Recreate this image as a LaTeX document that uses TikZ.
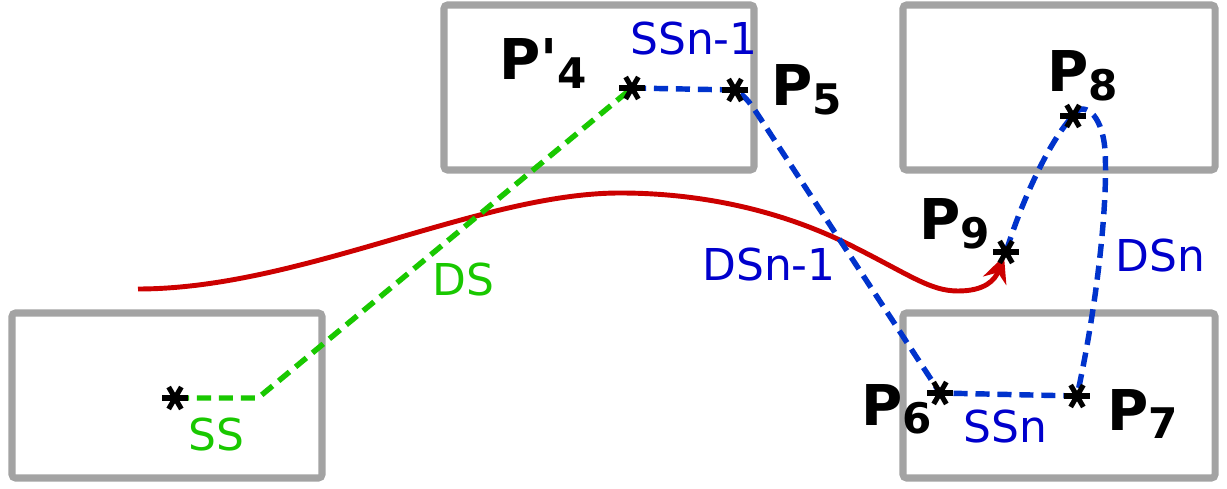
\documentclass[tikz,border=0pt]{standalone}
\usepackage{fontspec}
\setmainfont{DejaVu Sans}[Ligatures=TeXOff]
\usetikzlibrary{arrows.meta}
\definecolor{boxgray}{RGB}{163,163,163}
\definecolor{ssgreen}{RGB}{25,200,0}
\definecolor{snblue}{RGB}{0,51,204}
\definecolor{lblblue}{RGB}{0,0,204}
\definecolor{pathred}{RGB}{204,0,0}
\newcommand{\pname}[2]{P#1{\fontsize{24}{24}\selectfont\raisebox{-5pt}{#2}}}
\tikzset{
  box/.style={draw=boxgray, line width=4pt, rounded corners=2pt},
  seg/.style={dash pattern=on 8pt off 4.5pt, line width=3.1pt},
  plabel/.style={anchor=base west, inner sep=0pt, font=\fontsize{32}{32}\selectfont\bfseries},
  slabel/.style={anchor=base west, inner sep=0pt, font=\fontsize{25}{25}\selectfont},
}
\begin{document}
\begin{tikzpicture}[x=0.02cm, y=-0.02cm]
  \useasboundingbox (0,0) rectangle (1227,489);
  % boxes
  \draw[box] (12,313) rectangle (322,478);
  \draw[box] (444,5) rectangle (754,170);
  \draw[box] (903,5) rectangle (1215,170);
  \draw[box] (903,313) rectangle (1215,478);
  % points
  \coordinate (s0) at (175,398);
  \coordinate (s1) at (258,398);
  \coordinate (p4) at (632,88);
  \coordinate (p5) at (735,90);
  \coordinate (p6) at (940,393);
  \coordinate (p7) at (1077,396);
  \coordinate (p8) at (1073,116);
  \coordinate (p9) at (1006,252);
  \coordinate (r0) at (138,289);
  \coordinate (rtop) at (620,193);
  \coordinate (rmid) at (850,245);
  \coordinate (rlow) at (958,291);
  \coordinate (rend) at (1004,256);
  % trajectory
  \draw[pathred, line width=2.8pt, -{Stealth[length=15pt,width=14pt,inset=5pt]}] (r0)
    .. controls (300,289) and (480,193) .. (rtop)
    .. controls (700,193) and (780,210) .. (rmid)
    .. controls (910,275) and (930,291) .. (rlow)
    .. controls (985,291) and (995,280) .. (rend);
  % segments
  \draw[seg, ssgreen] (s0) -- (s1) -- (p4);
  \draw[seg, snblue] (p4) -- (p5) .. controls (747,97) and (752,106) .. (760,118) -- (p6) -- (p7)
    .. controls (1098,300) and (1108,200) .. (1105,150) .. controls (1102,112) and (1082,100) .. (p8)
    .. controls (1050,140) and (1022,200) .. (p9);
  % asterisks
  \foreach \p in {s0,p4,p5,p6,p7,p8,p9}
    \foreach \a in {0,60,120}
      \draw[line width=2.9pt] (\p) ++(\a:7.2pt) -- ++(\a+180:14.4pt);
  % labels
  \node[plabel] (n4) at (499,80) {\pname{'}{4}};
  \node[plabel] (n5) at (771,106) {\pname{}{5}};
  \node[plabel] (n8) at (1047,92) {\pname{}{8}};
  \node[plabel] (n9) at (919,240) {\pname{}{9}};
  \node[plabel] (n6) at (861,425) {\pname{}{6}};
  \node[plabel] (n7) at (1107,430) {\pname{}{7}};
  \node[slabel, lblblue] (ssn1) at (630,55) {SSn-1};
  \node[slabel, lblblue] (dsn1) at (702,281) {DSn-1};
  \node[slabel, lblblue] (dsn) at (1115,272) {DSn};
  \node[slabel, lblblue] (ssn) at (963,442) {SSn};
  \node[slabel, ssgreen] (ss) at (188,450) {SS};
  \node[slabel, ssgreen] (ds) at (432,296) {DS};
\end{tikzpicture}
\end{document}
